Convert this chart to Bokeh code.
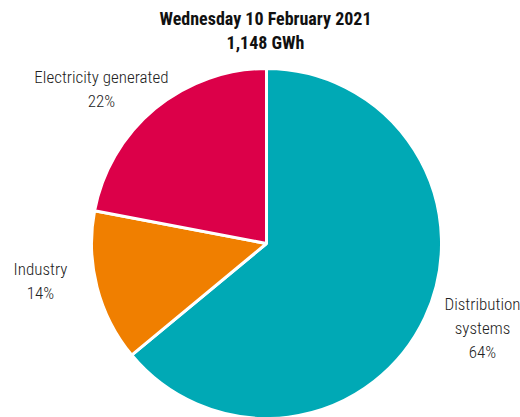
import math
from bokeh.plotting import figure
from bokeh.models import Range1d, ColumnDataSource
from bokeh.core.properties import value
from bokeh.embed import file_html
from bokeh.resources import INLINE

categories = ["Distribution systems", "Industry", "Electricity generated"]
shares = [64, 14, 22]
colors = ["#00A9B5", "#F07F00", "#DC0049"]
label_lines = [["Distribution", "systems", "64%"], ["Industry", "14%"], ["Electricity generated", "22%"]]
title_lines = ["Wednesday 10 February 2021", "1,148 GWh"]

W, H = 520, 417
cx, cy, R = 266, 243, 175
FONT = "'Roboto Condensed', 'Liberation Sans Narrow', 'Arial Narrow', Roboto, sans-serif"
FONT_LIGHT = "'Roboto Condensed Light', 'Roboto Condensed', 'Liberation Sans Narrow', Roboto, sans-serif"

def fy(py):
    return H - py

p = figure(width=W, height=H, output_backend="svg", toolbar_location=None,
           x_range=Range1d(0, W), y_range=Range1d(0, H), min_border=0)
p.axis.visible = False
p.grid.visible = False
p.outline_line_color = None
p.background_fill_color = "white"
p.border_fill_color = "white"

total = sum(shares)
starts, ends = [], []
acc = 0.0
for s in shares:
    a0 = math.pi / 2 - acc / total * 2 * math.pi
    acc += s
    a1 = math.pi / 2 - acc / total * 2 * math.pi
    starts.append(a0)
    ends.append(a1)

src = ColumnDataSource(dict(x=[cx] * 3, y=[fy(cy)] * 3, start=starts, end=ends, color=colors, cat=categories))
p.wedge(x="x", y="y", radius=R, radius_units="screen", start_angle="start", end_angle="end",
        direction="clock", fill_color="color", line_color="white", line_width=3, source=src)

label_pos = [(482, 303), (40, 268), (101, 76)]
line_h = 24
lx, ly, lt = [], [], []
for (x0, y0), lines in zip(label_pos, label_lines):
    for i, t in enumerate(lines):
        lx.append(x0)
        ly.append(fy(y0 + i * line_h))
        lt.append(t)
p.text(x=lx, y=ly, text=lt, text_font=value(FONT_LIGHT), text_font_size="17px",
       text_color="#222222", text_align="center", text_baseline="middle")

p.text(x=[265, 265], y=[fy(18), fy(42)], text=title_lines, text_font=value(FONT), text_font_size="18px",
       text_font_style="bold", text_color="#111111", text_align="center", text_baseline="middle")

open("out.html", "w").write(file_html(p, INLINE))
